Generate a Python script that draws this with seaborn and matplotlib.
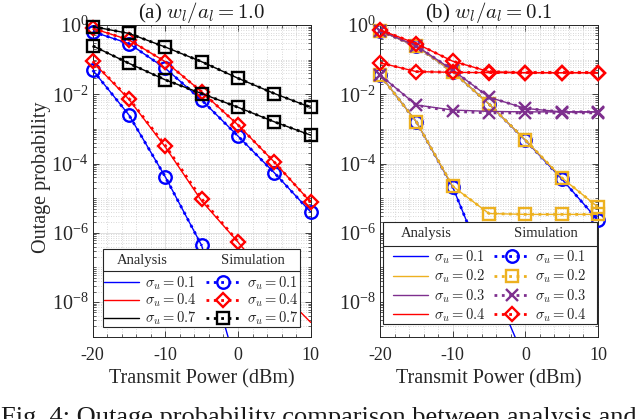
"""
plot.py

Outage probability vs transmit power, analysis and simulation.
"""

import matplotlib
matplotlib.use("Agg")
import matplotlib.pyplot as plt
import matplotlib.ticker as mticker
from matplotlib.lines import Line2D
from matplotlib.patches import Rectangle
import numpy as np
import seaborn as sns

power = [-20, -15, -10, -5, 0, 5, 10]

# (a) w_l/a_l = 1.0, two curves per sigma_u
a_labels = ["0.1", "0.4", "0.7"]
a_blue_hi = [0.64, 0.29, 0.056, 0.0068, 6.2e-4, 5.4e-5, 4.0e-6]
a_blue_lo = [0.05, 0.0025, 4.1e-5, 4.3e-7, 1.0e-10]
a_red_hi = [0.80, 0.37, 0.087, 0.0118, 1.3e-3, 1.1e-4, 7.7e-6]
a_red_lo = [0.087, 0.0071, 3.0e-4, 8.3e-6, 5.4e-7, 3.0e-8, 2.6e-9]
a_red_lo_sim = [0.09, 0.0075, 3.3e-4, 9.5e-6, 5.6e-7]
a_black_hi = [0.90, 0.57, 0.23, 0.087, 0.029, 0.0105, 0.0042]
a_black_lo = [0.25, 0.078, 0.026, 0.0105, 0.0042, 0.0016, 6.6e-4]

# (b) w_l/a_l = 0.1
b_labels = ["0.1", "0.2", "0.3", "0.4"]
b_blue_hi = [0.68, 0.24, 0.045, 0.0052, 4.7e-4, 3.6e-5, 2.3e-6]
b_blue_lo = [0.036, 1.6e-3, 2.1e-5, 5.6e-8, 2.0e-10]
b_orange_hi = [0.68, 0.24, 0.045, 0.0052, 4.8e-4, 3.9e-5, 5.5e-6]
b_orange_lo = [0.036, 1.6e-3, 2.2e-5, 3.6e-6, 3.4e-6, 3.4e-6, 3.4e-6]
b_purple_hi = [0.68, 0.25, 0.05, 0.0082, 0.0039, 0.0031, 0.0031]
b_purple_lo = [0.036, 0.0049, 0.0035, 0.0032, 0.0031, 0.0031, 0.0031]
b_purple_lo_sim = [0.036, 0.0048, 0.0032, 0.0029, 0.0029, 0.0029, 0.0029]
b_red_hi = [0.72, 0.29, 0.09, 0.045, 0.042, 0.042, 0.042]
b_red_lo = [0.081, 0.045, 0.043, 0.042, 0.042, 0.042, 0.042]

BLUE, RED, BLACK = "#0000ff", "#ff0000", "#000000"
ORANGE, PURPLE = "#EDB120", "#7E2F8E"
MARKER_SIZE = {"o": 9, "s": 8, "D": 7, "x": 8}

sns.set_style("ticks")
plt.rcParams["font.family"] = ["Liberation Serif", "DejaVu Serif"]
plt.rcParams["mathtext.fontset"] = "cm"
plt.rcParams["axes.unicode_minus"] = False


def analysis_line(ax, y, color):
    sns.lineplot(x=power[:len(y)], y=y, ax=ax, color=color, linewidth=1.0,
                 estimator=None, sort=False, zorder=3)


def simulation_line(ax, y, color, marker):
    sns.lineplot(x=power[:len(y)], y=y, ax=ax, color=color, linestyle=":",
                 linewidth=2.0, marker=marker, markersize=MARKER_SIZE[marker],
                 markerfacecolor="none", markeredgecolor=color,
                 markeredgewidth=1.7, estimator=None, sort=False,
                 clip_on=False, zorder=3)


def style_axes(ax, title):
    ax.set_yscale("log")
    ax.set_xlim(-20, 10)
    ax.set_ylim(1e-9, 1)
    ax.set_xticks([-20, -10, 0, 10])
    ax.xaxis.set_minor_locator(mticker.MultipleLocator(2))
    ax.yaxis.set_major_locator(mticker.FixedLocator([1e-8, 1e-6, 1e-4, 1e-2, 1]))
    ax.yaxis.set_minor_locator(mticker.LogLocator(base=10, subs=np.arange(1, 10), numticks=30))
    ax.yaxis.set_minor_formatter(mticker.NullFormatter())
    ax.grid(which="major", color="0.86", linewidth=0.6, linestyle="-")
    ax.grid(which="minor", color="0.8", linewidth=0.6, linestyle=(0, (1, 2)))
    ax.set_axisbelow(True)
    ax.tick_params(which="both", direction="in", top=True, right=True, colors="0.15")
    ax.tick_params(axis="x", labelsize=13, pad=7.5)
    ax.tick_params(axis="y", labelsize=14.5, pad=3)
    ax.tick_params(which="major", length=4, width=0.6)
    ax.tick_params(which="minor", length=2, width=0.5)
    for s in ax.spines.values():
        s.set_color("0.15")
        s.set_linewidth(0.7)
    ax.set_xlabel("Transmit Power (dBm)", fontsize=14.5, color="0.15", labelpad=4)
    ax.set_title(title, fontsize=15, pad=2.5, color="0.1")


def legend_box(ax, colors, markers, labels, box, sep, spacing):
    x0, y0, x1, y1 = box
    ax.add_patch(Rectangle((x0, y0), x1 - x0, y1 - y0, transform=ax.transAxes,
                           facecolor="white", edgecolor="0.15", linewidth=0.8,
                           zorder=6, clip_on=False))
    ax.plot([x0, x1], [sep, sep], transform=ax.transAxes, color="0.15",
            linewidth=0.8, zorder=7)
    head_y = (sep + y1) / 2
    ax.text(x0 + (x1 - x0) * 0.2, head_y, "Analysis", transform=ax.transAxes,
            ha="center", va="center", fontsize=10.5, zorder=8)
    ax.text(x0 + (x1 - x0) * 0.76, head_y, "Simulation", transform=ax.transAxes,
            ha="center", va="center", fontsize=10.5, zorder=8)
    ana = [Line2D([], [], color=c, linewidth=1.0) for c in colors]
    sim = [Line2D([], [], color=c, linestyle=":", linewidth=2.0, marker=m,
                  markersize=MARKER_SIZE[m], markerfacecolor="none",
                  markeredgecolor=c, markeredgewidth=1.7)
           for c, m in zip(colors, markers)]
    texts = [rf"$\sigma_u = {v}$" for v in labels]
    leg = ax.legend(handles=ana + sim, labels=texts + texts, ncol=2,
                    loc="upper center", bbox_to_anchor=((x0 + x1) / 2, sep),
                    bbox_transform=ax.transAxes, frameon=False, fontsize=10.5,
                    handlelength=2.4, handletextpad=0.4, columnspacing=0.6,
                    labelspacing=spacing, borderpad=0.2, borderaxespad=0)
    leg.set_zorder(8)


fig = plt.figure(figsize=(6.4, 4.19), dpi=100)
ax_a = fig.add_axes([0.1448, 0.1964, 0.3406, 0.744])
ax_b = fig.add_axes([0.5938, 0.1964, 0.3406, 0.744])

style_axes(ax_a, r"(a) $w_l/a_l = 1.0$")
style_axes(ax_b, r"(b) $w_l/a_l = 0.1$")
ax_a.set_ylabel("Outage probability", fontsize=14.5, color="0.15")
ax_a.yaxis.set_label_coords(-0.19, 0.51)

# panel (a)
for hi, lo, lo_sim, c, m in [(a_blue_hi, a_blue_lo, a_blue_lo[:4], BLUE, "o"),
                             (a_red_hi, a_red_lo, a_red_lo_sim, RED, "D"),
                             (a_black_hi, a_black_lo, a_black_lo, BLACK, "s")]:
    analysis_line(ax_a, hi, c)
    analysis_line(ax_a, lo, c)
    simulation_line(ax_a, hi, c, m)
    simulation_line(ax_a, lo_sim, c, m)

# panel (b)
for hi, lo, lo_sim, c, m in [(b_blue_hi, b_blue_lo, b_blue_lo[:4], BLUE, "o"),
                             (b_orange_hi, b_orange_lo, b_orange_lo, ORANGE, "s"),
                             (b_purple_hi, b_purple_lo, b_purple_lo_sim, PURPLE, "x"),
                             (b_red_hi, b_red_lo, b_red_lo, RED, "D")]:
    analysis_line(ax_b, hi, c)
    analysis_line(ax_b, lo, c)
    simulation_line(ax_b, hi, c, m)
    simulation_line(ax_b, lo_sim, c, m)

legend_box(ax_a, [BLUE, RED, BLACK], ["o", "D", "s"], a_labels,
           (0.046, 0.032, 0.951, 0.281), 0.21, 0.02)
legend_box(ax_b, [BLUE, ORANGE, PURPLE, RED], ["o", "s", "x", "D"], b_labels,
           (0.014, 0.041, 0.994, 0.369), 0.292, 0.12)

fig.text(0.002, -0.013, "Fig. 4: Outage probability comparison between analysis and",
         fontsize=19, ha="left", va="baseline", color="0.1")

fig.savefig("out.png", dpi=100)
